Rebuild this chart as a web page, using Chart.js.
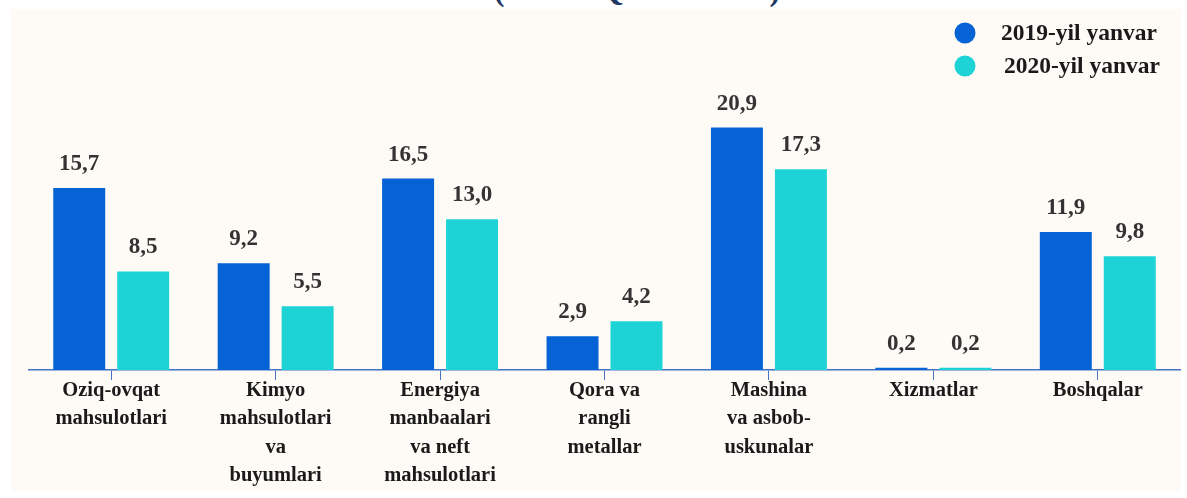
<!DOCTYPE html>
<html>
<head>
<meta charset="utf-8">
<script src="https://cdn.jsdelivr.net/npm/chart.js@4.4.1/dist/chart.umd.min.js"></script>
<style>
  html, body { margin: 0; padding: 0; background: #ffffff; }
  #wrap { position: relative; width: 1187px; height: 498px; overflow: hidden; }
  #panel { position: absolute; left: 11px; top: 9px; width: 1170px; height: 482px; background: #fefaf5; }
  #title { position: absolute; left: 437px; width: 400px; top: -27px; text-align: center;
           font: bold 33px "Liberation Serif", serif; color: #1f3864; line-height: 33px; }
  #chartBox { position: absolute; left: 0; top: 0; width: 1187px; height: 498px; }
</style>
</head>
<body>
<div id="wrap">
  <div id="panel"></div>
  <div id="title">(mln. AQSH dollari)</div>
  <div id="chartBox"><canvas id="chart"></canvas></div>
</div>
<script>
// toifalar (ko'p qatorli nomlar)
const categories = [
  ["Oziq-ovqat", "mahsulotlari"],
  ["Kimyo", "mahsulotlari", "va", "buyumlari"],
  ["Energiya", "manbaalari", "va neft", "mahsulotlari"],
  ["Qora va", "rangli", "metallar"],
  ["Mashina", "va asbob-", "uskunalar"],
  ["Xizmatlar"],
  ["Boshqalar"]
];
const seriesNames = ["2019-yil yanvar", "2020-yil yanvar"];
const jan2019 = [15.7, 9.2, 16.5, 2.9, 20.9, 0.2, 11.9];
const jan2020 = [8.5, 5.5, 13.0, 4.2, 17.3, 0.2, 9.8];

const colors = ["#0563d6", "#1ed3d6"];
const axisColor = "#4472c4";

function fmt(v) {
  return v.toFixed(1).replace(".", ",");
}

// qiymatlarni ustunlar ustida yozish
const valueLabels = {
  id: "valueLabels",
  afterDatasetsDraw(chart) {
    const ctx = chart.ctx;
    ctx.save();
    ctx.font = "bold 23px 'Liberation Serif', serif";
    ctx.fillStyle = "#333333";
    ctx.textAlign = "center";
    ctx.textBaseline = "alphabetic";
    chart.data.datasets.forEach((ds, i) => {
      chart.getDatasetMeta(i).data.forEach((bar, j) => {
        ctx.fillText(fmt(ds.data[j]), bar.x, bar.y - 18);
      });
    });
    ctx.restore();
  }
};

// o'ng yuqoridagi legenda
const sideLegend = {
  id: "sideLegend",
  afterDraw(chart) {
    const ctx = chart.ctx;
    ctx.save();
    ctx.font = "bold 23.5px 'Liberation Serif', serif";
    ctx.textBaseline = "middle";
    ctx.textAlign = "left";
    chart.data.datasets.forEach((ds, i) => {
      const y = 33 + i * 33;
      ctx.fillStyle = ds.backgroundColor;
      ctx.beginPath();
      ctx.arc(965, y, 10.5, 0, Math.PI * 2);
      ctx.fill();
      ctx.fillStyle = "#1a1a1a";
      ctx.fillText(ds.label, 1001 + i * 3, y + 1);
    });
    ctx.restore();
  }
};

const ctx = document.getElementById("chart").getContext("2d");
const chart = new Chart(ctx, {
  type: "bar",
  data: {
    labels: categories,
    datasets: [
      { label: seriesNames[0], data: jan2019, backgroundColor: colors[0] },
      { label: seriesNames[1], data: jan2020, backgroundColor: colors[1] }
    ]
  },
  options: {
    responsive: true,
    maintainAspectRatio: false,
    animation: false,
    layout: { padding: { left: 29, right: 7, top: 80, bottom: 0 } },
    plugins: {
      legend: { display: false },
      tooltip: { enabled: false }
    },
    datasets: {
      bar: { categoryPercentage: 0.778, barPercentage: 0.8125 }
    },
    scales: {
      x: {
        afterFit(scale) { scale.height = 128; },
        grid: {
          offset: false,
          drawOnChartArea: false,
          drawTicks: true,
          tickLength: 10,
          color: axisColor
        },
        border: { color: axisColor, width: 1.5 },
        ticks: {
          color: "#1a1a1a",
          padding: -3,
          maxRotation: 0,
          autoSkip: false,
          font: { family: "'Liberation Serif', serif", size: 20.5, weight: "bold", lineHeight: 1.37 }
        }
      },
      y: {
        display: false,
        min: 0,
        max: 25
      }
    }
  },
  plugins: [valueLabels, sideLegend]
});
</script>
</body>
</html>
